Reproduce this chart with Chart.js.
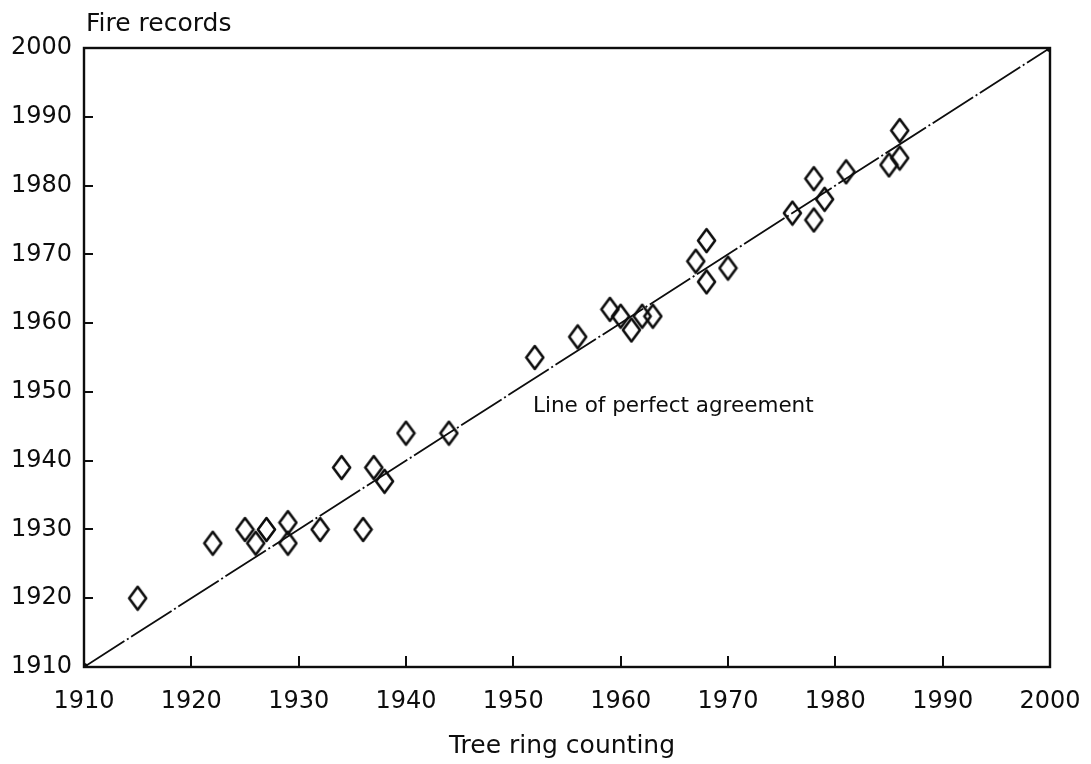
<!DOCTYPE html>
<html>
<head>
<meta charset="utf-8">
<script src="https://cdn.jsdelivr.net/npm/chart.js@4"></script>
<style>
  html, body { margin: 0; padding: 0; background: #fff; }
  #wrap { width: 1091px; height: 764px; }
</style>
</head>
<body>
<div id="wrap"><canvas id="c" width="1091" height="764"></canvas></div>
<script>
// Fire year from tree ring counting vs. fire year from written records
const treeRingYears   = [1915, 1922, 1925, 1926, 1927, 1929, 1929, 1932, 1936, 1934, 1937, 1938, 1940, 1944,
                         1952, 1956, 1959, 1960, 1961, 1962, 1963, 1967, 1968, 1968, 1970,
                         1976, 1978, 1978, 1979, 1981, 1985, 1986, 1986];
const fireRecordYears = [1920, 1928, 1930, 1928, 1930, 1931, 1928, 1930, 1930, 1939, 1939, 1937, 1944, 1944,
                         1955, 1958, 1962, 1961, 1959, 1961, 1961, 1969, 1972, 1966, 1968,
                         1976, 1981, 1975, 1978, 1982, 1983, 1988, 1984];
// 1:1 line
const agreementYears = [1910, 2000];
const axisTicks = [1910, 1920, 1930, 1940, 1950, 1960, 1970, 1980, 1990, 2000];

const xTitle = 'Tree ring counting';
const yTitle = 'Fire records';
const lineLabel = 'Line of perfect agreement';

const INK = '#0d0d0d';
const FONT = 'DejaVu Sans';

// hollow diamond marker, a little taller than wide
function diamondMarker() {
  const c = document.createElement('canvas');
  c.width = 21; c.height = 27;
  const g = c.getContext('2d');
  g.strokeStyle = INK;
  g.lineWidth = 2.6;
  g.lineJoin = 'round';
  g.beginPath();
  g.moveTo(10.5, 2); g.lineTo(19, 13.5); g.lineTo(10.5, 25); g.lineTo(2, 13.5);
  g.closePath();
  g.stroke();
  return c;
}

// frame, inward tick marks and free-standing labels
const framePlugin = {
  id: 'frame',
  afterDraw(chart) {
    const { ctx, chartArea: a, scales: { x, y } } = chart;
    ctx.save();
    ctx.strokeStyle = INK;
    ctx.lineWidth = 2.4;
    ctx.strokeRect(a.left, a.top, a.right - a.left, a.bottom - a.top);

    ctx.lineWidth = 2;
    ctx.beginPath();
    axisTicks.slice(1, -1).forEach(v => {
      const px = Math.round(x.getPixelForValue(v));
      ctx.moveTo(px, a.bottom); ctx.lineTo(px, a.bottom - 11);
      const py = Math.round(y.getPixelForValue(v));
      ctx.moveTo(a.left, py); ctx.lineTo(a.left + 9, py);
    });
    ctx.stroke();

    ctx.fillStyle = INK;
    ctx.textBaseline = 'alphabetic';
    ctx.font = `25px "${FONT}"`;
    ctx.textAlign = 'left';
    ctx.fillText(yTitle, 86, 31);

    ctx.textAlign = 'center';
    ctx.fillText(xTitle, 562, 753);

    ctx.font = `21.5px "${FONT}"`;
    ctx.textAlign = 'left';
    ctx.fillText(lineLabel, 533, 412);
    ctx.restore();
  }
};

const setTicks = scale => { scale.ticks = axisTicks.map(v => ({ value: v })); };
const yearLabel = v => String(v);

new Chart(document.getElementById('c'), {
  type: 'scatter',
  data: {
    datasets: [
      {
        type: 'line',
        data: agreementYears.map(v => ({ x: v, y: v })),
        borderColor: INK,
        borderWidth: 1.8,
        borderDash: [48, 3, 2, 3],
        pointRadius: 3,
        pointBackgroundColor: INK,
        pointBorderColor: INK,
        fill: false,
        tension: 0
      },
      {
        data: treeRingYears.map((v, i) => ({ x: v, y: fireRecordYears[i] })),
        pointStyle: diamondMarker(),
        pointRadius: 10
      }
    ]
  },
  options: {
    responsive: false,
    animation: false,
    devicePixelRatio: 1,
    layout: { padding: { left: 0, top: 48, right: 41, bottom: 0 } },
    plugins: { legend: { display: false }, tooltip: { enabled: false } },
    scales: {
      x: {
        type: 'linear',
        min: 1910, max: 2000,
        afterBuildTicks: setTicks,
        afterFit: s => { s.height = 97; s.paddingLeft = 0; s.paddingRight = 0; },
        grid: { display: false, drawTicks: false },
        border: { display: false },
        ticks: { padding: 20, color: INK, font: { family: FONT, size: 24 }, callback: yearLabel, maxRotation: 0 }
      },
      y: {
        type: 'linear',
        min: 1910, max: 2000,
        afterBuildTicks: setTicks,
        afterFit: s => { s.width = 84; s.paddingTop = 0; s.paddingBottom = 0; },
        grid: { display: false, drawTicks: false },
        border: { display: false },
        ticks: { padding: 12, color: INK, font: { family: FONT, size: 24 }, callback: yearLabel }
      }
    }
  },
  plugins: [framePlugin]
});
</script>
</body>
</html>
